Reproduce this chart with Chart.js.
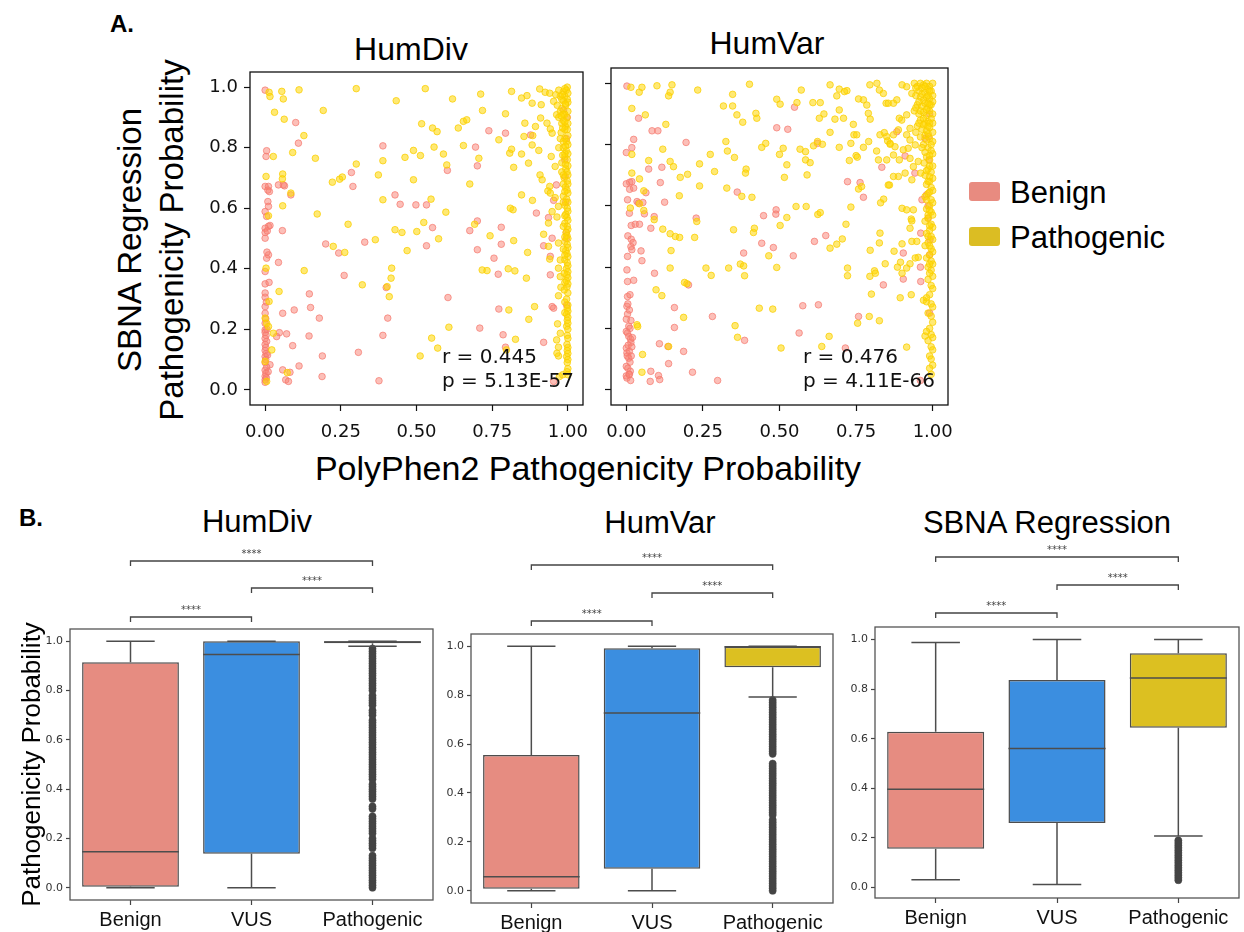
<!DOCTYPE html>
<html>
<head>
<meta charset="utf-8">
<script src="https://cdn.jsdelivr.net/npm/chart.js@4.4.1/dist/chart.umd.min.js"></script>
<style>
  body { margin: 0; background: #fff; }
  #page { position: relative; width: 1244px; height: 932px; overflow: hidden; font-family: "Liberation Sans", Arial, sans-serif; color: #000; }
  canvas { position: absolute; }
  .t { position: absolute; transform: translate(-50%, -50%); white-space: nowrap; line-height: 1; }
  .lg { position: absolute; line-height: 1; white-space: nowrap; font-size: 31px; transform: translateY(-50%); }
  .patch { position: absolute; width: 31px; height: 19px; border-radius: 3px; }
</style>
</head>
<body>
<div id="page">
  <div class="t" style="left:122px;top:24px;font-size:24px;font-weight:bold">A.</div>
  <div class="t" style="left:411px;top:49px;font-size:32px">HumDiv</div>
  <div class="t" style="left:767px;top:43px;font-size:32px">HumVar</div>
  <div class="t" style="left:151px;top:240px;font-size:33px;line-height:42px;text-align:center;transform:translate(-50%,-50%) rotate(-90deg)">SBNA Regression<br>Pathogenicity Probability</div>
  <div class="t" style="left:588px;top:468px;font-size:34px">PolyPhen2 Pathogenicity Probability</div>

  <div class="patch" style="left:969px;top:182px;background:#e88b80"></div>
  <div class="lg" style="left:1010px;top:192px">Benign</div>
  <div class="patch" style="left:969px;top:227px;background:#dbbd23"></div>
  <div class="lg" style="left:1010px;top:237px">Pathogenic</div>

  <div class="t" style="left:31px;top:518px;font-size:24px;font-weight:bold">B.</div>
  <div class="t" style="left:257px;top:521px;font-size:31px">HumDiv</div>
  <div class="t" style="left:660px;top:522px;font-size:31px">HumVar</div>
  <div class="t" style="left:1047px;top:522px;font-size:31px">SBNA Regression</div>

  <canvas id="scatterDiv" width="400" height="390" style="left:190px;top:60px"></canvas>
  <canvas id="scatterVar" width="355" height="395" style="left:600px;top:55px"></canvas>
  <canvas id="boxDiv" width="440" height="387" style="left:0px;top:545px"></canvas>
  <canvas id="boxVar" width="400" height="387" style="left:440px;top:545px"></canvas>
  <canvas id="boxSbna" width="404" height="387" style="left:840px;top:545px"></canvas>
</div>

<script>
// ---- panel A data: [PolyPhen2, SBNA] pairs ----
const scatterXTicks = [0, 0.25, 0.5, 0.75, 1.0];
const scatterYTicks = [0, 0.2, 0.4, 0.6, 0.8, 1.0];

const humDivStats = ["r = 0.445", "p = 5.13E-57"];
const humVarStats = ["r = 0.476", "p = 4.11E-66"];

const humDivBenign = [
  [0.0,0.99],[0.101,0.883],[0.11,0.815],[0.739,0.856],[0.794,0.848],[0.877,0.842],
  [0.003,0.771],[0.005,0.79],[0,0.672],[0.011,0.672],[0.014,0.655],[0.009,0.622],[0.011,0.606],[0,0.589],
  [0.005,0.573],[0.011,0.54],[0.016,0.543],[0,0.534],[0,0.501],[0.011,0.446],[0.005,0.435],[0,0.391],
  [0,0.35],[0.013,0.355],[0,0.306],[0,0.275],[0,0.253],[0,0.198],[0.016,0.083],[0,0.033],
  [0,0.19],[0.003,0.18],[0,0.17],[0.005,0.16],[0,0.15],[0.002,0.14],[0,0.13],[0.004,0.12],[0,0.11],
  [0.002,0.1],[0,0.09],[0.005,0.075],[0,0.065],[0.003,0.055],[0,0.045],[0.004,0.04],[0,0.025],[0.006,0.2],
  [0.008,0.115],[0.01,0.06],[0,0.22],[0.002,0.235],[0.004,0.29],[0,0.32],[0.006,0.455],[0,0.52],[0.007,0.525],[0.009,0.66],
  [0.044,0.677],[0.06,0.677],[0.064,0.674],[0.057,0.526],[0.085,0.644],[0.2,0.482],[0.243,0.452],[0.285,0.718],
  [0.29,0.672],[0.329,0.488],[0.389,0.806],[0.429,0.644],[0.446,0.613],[0.498,0.611],[0.533,0.611],[0.553,0.536],
  [0.533,0.476],[0.602,0.725],[0.695,0.802],[0.701,0.74],[0.701,0.558],[0.676,0.526],[0.78,0.537],[0.78,0.481],
  [0.701,0.463],[0.756,0.435],[0.896,0.584],[0.77,0.382],[0.772,0.267],[0.786,0.182],[0.794,0.141],[0.92,0.157],
  [0.709,0.204],[0.604,0.305],[0.405,0.237],[0.4,0.338],[0.261,0.378],[0.044,0.421],[0.146,0.317],[0.15,0.272],
  [0.096,0.264],[0.058,0.253],[0.179,0.237],[0.047,0.189],[0.038,0.176],[0.071,0.185],[0.145,0.178],[0.091,0.146],
  [0.189,0.112],[0.308,0.124],[0.389,0.18],[0.112,0.079],[0.058,0.066],[0.082,0.058],[0.068,0.033],[0.077,0.028],
  [0.188,0.044],[0.376,0.03],[0.953,0.27],[0.953,0.028],[0.948,0.275],[0.942,0.38],[0.942,0.441],[0.92,0.476],
  [0.948,0.501],[0.936,0.569],[0.953,0.626],[0.962,0.677],[0.991,0.705],[0.986,0.925],[0.99,0.76],[0.995,0.83],
  [0.993,0.62],[0.995,0.52],[0.995,0.5],[0.996,0.28],[0.998,0.9]
];

const humDivPathogenic = [
  [0.013,0.983],[0.016,0.969],[0.055,0.986],[0.06,0.961],[0.112,0.991],[0.031,0.917],[0.063,0.894],[0.128,0.84],
  [0.192,0.923],[0.301,0.995],[0.433,0.955],[0.529,0.995],[0.619,0.961],[0.712,0.977],[0.814,0.986],[0.718,0.923],
  [0.794,0.912],[0.517,0.879],[0.553,0.865],[0.568,0.853],[0.638,0.865],[0.655,0.887],[0.666,0.892],[0.772,0.826],
  [0.858,0.881],[0.893,0.87],[0.855,0.837],[0.884,0.84],[0.91,0.898],[0.931,0.881],[0.942,0.862],[0.882,0.947],
  [0.847,0.964],[0.865,0.972],[0.907,0.994],[0.925,0.983],[0.912,0.942],[0.94,0.98],
  [0.027,0.771],[0.003,0.705],[0.011,0.575],[0.003,0.402],[0.013,0.292],[0,0.237],[0.005,0.22],[0.011,0.209],
  [0.022,0.132],[0,0.094],[0.005,0.028],
  [0.058,0.713],[0.057,0.697],[0.058,0.608],[0.085,0.65],[0.091,0.784],[0.166,0.765],[0.172,0.581],[0.225,0.474],
  [0.263,0.454],[0.222,0.686],[0.246,0.696],[0.255,0.703],[0.301,0.746],[0.274,0.547],[0.364,0.496],[0.374,0.71],
  [0.389,0.757],[0.389,0.628],[0.429,0.529],[0.452,0.52],[0.462,0.768],[0.49,0.791],[0.513,0.774],[0.49,0.694],
  [0.548,0.63],[0.501,0.523],[0.524,0.553],[0.573,0.499],[0.469,0.46],[0.589,0.779],[0.558,0.802],[0.6,0.743],
  [0.597,0.587],[0.655,0.807],[0.706,0.765],[0.676,0.68],[0.692,0.547],[0.743,0.509],[0.821,0.493],[0.819,0.595],
  [0.81,0.6],[0.847,0.644],[0.821,0.735],[0.808,0.782],[0.814,0.795],[0.847,0.779],[0.87,0.749],[0.904,0.791],
  [0.882,0.809],[0.883,0.626],[0.908,0.71],[0.915,0.694],[0.867,0.454],[0.863,0.369],[0.717,0.396],[0.733,0.394],
  [0.803,0.4],[0.825,0.393],[0.805,0.264],[0.89,0.275],[0.871,0.233],[0.827,0.167],[0.797,0.132],[0.512,0.112],
  [0.55,0.171],[0.57,0.138],[0.607,0.207],[0.41,0.308],[0.403,0.341],[0.416,0.369],[0.418,0.402],[0.321,0.347],
  [0.129,0.394],[0.046,0.325],[0.027,0.187],[0.073,0.057],
  [0.969,0.112],[0.964,0.121],[0.94,0.432],[0.936,0.474],[0.92,0.514],[0.936,0.551],[0.948,0.589],[0.94,0.672],
  [0.934,0.657],[0.942,0.65],[0.958,0.635],[0.969,0.606],[0.964,0.571],[0.969,0.485],[0.975,0.429],[0.969,0.402],
  [0.975,0.374],[0.977,0.339],[0.969,0.311],[0.966,0.218],[0.975,0.187],[0.963,0.165],[0.969,0.141],[0.972,0.044],
  [0.983,0.05],[0.948,0.848],[0.963,0.909],[0.953,0.953],[0.945,0.771],[0.958,0.738],
  [0.998,1.0],[0.995,0.99],[1.0,0.98],[0.99,0.97],[0.998,0.96],[0.985,0.955],[1.0,0.95],[0.993,0.94],[0.98,0.93],
  [1.0,0.92],[0.99,0.91],[0.997,0.9],[0.985,0.89],[1.0,0.88],[0.992,0.87],[0.998,0.86],[0.978,0.85],[1.0,0.84],
  [0.99,0.83],[0.996,0.82],[1.0,0.81],[0.985,0.8],[0.995,0.79],[1.0,0.78],[0.99,0.77],[0.998,0.76],[0.98,0.75],
  [1.0,0.74],[0.993,0.73],[0.997,0.72],[1.0,0.71],[0.988,0.7],[0.998,0.69],[1.0,0.68],[0.992,0.67],[0.997,0.66],
  [1.0,0.65],[0.985,0.64],[0.996,0.63],[1.0,0.62],[0.99,0.61],[0.998,0.6],[1.0,0.59],[0.993,0.58],[0.997,0.57],
  [1.0,0.56],[0.99,0.55],[0.998,0.54],[1.0,0.53],[0.994,0.52],[0.997,0.51],[1.0,0.5],[0.99,0.49],[0.998,0.48],
  [1.0,0.47],[0.993,0.46],[0.997,0.45],[1.0,0.44],[0.99,0.43],[0.998,0.42],[1.0,0.41],[0.995,0.4],[1.0,0.39],
  [0.997,0.38],[1.0,0.37],[0.995,0.36],[1.0,0.35],[0.997,0.34],[1.0,0.32],[0.996,0.3],[1.0,0.28],[0.998,0.27],
  [1.0,0.26],[0.996,0.25],[1.0,0.24],[0.998,0.23],[1.0,0.22],[0.996,0.21],[1.0,0.2],[0.998,0.18],[1.0,0.17],
  [0.997,0.15],[1.0,0.14],[0.998,0.13],[1.0,0.12],[0.996,0.11],[1.0,0.1],[0.998,0.09],[1.0,0.07],[0.997,0.06],[1.0,0.05],
  [0.985,0.985],[0.975,0.97],[0.97,0.99],[0.96,0.975],[0.98,0.96],[0.965,0.94],[0.975,0.92],[0.985,0.91],[0.97,0.9],
  [0.98,0.88],[0.99,0.86],[0.975,0.83],[0.985,0.82],[0.97,0.8],[0.99,0.78],[0.98,0.72],[0.985,0.68],
  [0.99,0.995],[0.982,0.975],[0.992,0.945],[0.978,0.905],[0.99,0.885],[0.983,0.865],[0.992,0.805],[0.983,0.775],
  [0.992,0.745],[0.985,0.71],[0.99,0.655],[0.985,0.62],[0.99,0.575],[0.985,0.54],[0.99,0.505],[0.985,0.465],
  [0.99,0.445],[0.988,0.385],[0.99,0.355],[0.988,0.33],[0.99,0.29],[0.99,0.255]
];

const humVarBenign = [
  [0.002,0.991],[0.04,0.886],[0.084,0.845],[0.103,0.845],[0.024,0.817],[0.018,0.79],[0,0.774],[0.195,0.807],
  [0.073,0.72],[0.116,0.726],[0,0.672],[0.011,0.677],[0.018,0.679],[0.011,0.654],[0.024,0.658],[0.111,0.676],[0.064,0.643],
  [0.004,0.62],[0.035,0.614],[0.04,0.609],[0.054,0.611],[0.125,0.612],[0.01,0.576],[0.059,0.574],[0.016,0.536],
  [0.029,0.54],[0.043,0.54],[0.08,0.527],[0.005,0.502],[0.016,0.491],[0.022,0.48],[0.015,0.467],[0.004,0.435],
  [0.018,0.457],[0.048,0.453],[0.051,0.421],[0.002,0.391],[0.004,0.353],[0.024,0.357],[0.004,0.304],[0.002,0.272],
  [0.004,0.247],[0.015,0.226],[0.008,0.207],[0,0.19],[0.008,0.174],[0.015,0.154],[0,0.136],[0.002,0.12],[0.008,0.103],
  [0,0.076],[0.013,0.06],[0.002,0.038],[0.08,0.06],[0.105,0.046],[0.109,0.033],[0.078,0.027],[0.091,0.565],
  [0.005,0.28],[0.01,0.26],[0,0.23],[0.012,0.2],[0.004,0.185],[0.014,0.165],[0.006,0.145],[0.01,0.125],[0.003,0.11],
  [0.012,0.09],[0.005,0.07],[0.009,0.05],[0,0.045],[0.014,0.03],[0.016,0.11],[0.02,0.17],[0.018,0.14],[0.012,0.31],[0.01,0.05],
  [0.228,0.56],[0.362,0.645],[0.489,0.587],[0.488,0.573],[0.448,0.568],[0.614,0.484],[0.651,0.503],[0.722,0.679],
  [0.763,0.676],[0.774,0.628],[0.442,0.478],[0.48,0.464],[0.545,0.437],[0.383,0.446],[0.092,0.38],[0.203,0.342],
  [0.157,0.268],[0.281,0.239],[0.157,0.203],[0.386,0.161],[0.576,0.274],[0.627,0.277],[0.564,0.185],[0.108,0.15],
  [0.136,0.141],[0.187,0.125],[0.138,0.085],[0.216,0.057],[0.298,0.03],[0.715,0.136],[0.758,0.239],[0.839,0.342],
  [0.904,0.361],[0.961,0.353],[0.549,0.922],[0.491,0.855],[0.527,0.85],[0.624,0.804],[0.834,0.726],[0.883,0.842],
  [0.91,0.763],[0.942,0.707],[0.986,0.826],[0.98,0.636],[0.961,0.511],[0.991,0.489],[0.904,0.446],[0.985,0.6],
  [0.965,0.62],[0.985,0.56],[0.99,0.44],[0.96,0.4],[0.99,0.25],[0.96,0.03],[0.99,0.9],[0.988,0.75],[0.975,0.82]
];

const humVarPathogenic = [
  [0.015,0.987],[0.042,0.971],[0.051,0.987],[0.1,0.992],[0.143,0.971],[0.149,0.995],[0.138,0.959],[0.233,0.978],
  [0.402,0.997],[0.347,0.964],[0.317,0.926],[0.347,0.926],[0.361,0.897],[0.38,0.873],[0.423,0.902],[0.426,0.886],
  [0.491,0.948],[0.502,0.932],[0.571,0.978],[0.557,0.937],[0.609,0.937],[0.633,0.937],[0.645,0.9],[0.63,0.886],
  [0.665,0.995],[0.695,0.981],[0.72,0.976],[0.687,0.959],[0.712,0.973],[0.695,0.913],[0.681,0.883],[0.709,0.886],
  [0.741,0.866],[0.758,0.949],[0.774,0.946],[0.785,0.929],[0.79,0.902],[0.796,0.883],
  [0.795,0.995],[0.818,1.0],[0.826,0.978],[0.839,0.967],[0.848,0.935],[0.855,0.935],[0.872,0.935],[0.883,0.946],
  [0.9,0.995],[0.915,0.989],[0.932,0.967],[0.915,0.897],[0.899,0.88],[0.926,0.853],[0.915,0.832],[0.891,0.886],
  [0.888,0.848],[0.872,0.832],[0.861,0.804],[0.85,0.826],[0.877,0.793],[0.872,0.766],[0.85,0.75],[0.891,0.75],
  [0.904,0.783],[0.926,0.815],[0.92,0.788],[0.943,0.799],[0.926,0.755],[0.937,0.728],[0.91,0.707],[0.888,0.696],
  [0.872,0.696],[0.859,0.668],[0.932,0.685],[0.961,0.707],[0.953,0.745],
  [0.018,0.918],[0.062,0.897],[0.129,0.866],[0.018,0.768],[0.119,0.785],[0.143,0.745],[0.239,0.737],[0.274,0.768],
  [0.325,0.81],[0.33,0.779],[0.353,0.758],[0.073,0.748],[0.154,0.728],[0.176,0.693],[0.2,0.703],[0.288,0.712],
  [0.018,0.707],[0.043,0.688],[0.057,0.649],[0.173,0.633],[0.239,0.665],
  [0.013,0.593],[0.043,0.607],[0.091,0.555],[0.119,0.524],[0.143,0.509],[0.16,0.5],[0.174,0.497],[0.23,0.549],
  [0.223,0.497],[0.057,0.585],[0.377,0.631],[0.41,0.628],[0.328,0.658],[0.391,0.72],[0.389,0.707],
  [0.442,0.791],[0.455,0.804],[0.5,0.768],[0.512,0.788],[0.524,0.734],[0.516,0.693],[0.59,0.701],[0.567,0.785],
  [0.585,0.777],[0.585,0.75],[0.6,0.741],[0.611,0.796],[0.624,0.81],[0.64,0.801],[0.665,0.84],[0.695,0.791],
  [0.728,0.748],[0.733,0.804],[0.743,0.832],[0.752,0.832],[0.774,0.791],[0.75,0.764],[0.754,0.759],[0.791,0.81],
  [0.817,0.779],[0.823,0.75],[0.853,0.812],[0.861,0.801],[0.842,0.839],[0.828,0.832],
  [0.554,0.598],[0.524,0.562],[0.502,0.536],[0.625,0.572],[0.633,0.578],[0.587,0.598],[0.758,0.655],[0.768,0.663],
  [0.733,0.596],[0.717,0.54],[0.687,0.475],[0.705,0.492],[0.665,0.462],[0.415,0.513],[0.418,0.527],[0.35,0.522],[0.465,0.437],
  [0.372,0.41],[0.383,0.404],[0.334,0.397],[0.386,0.372],[0.491,0.399],[0.26,0.397],[0.277,0.373],[0.143,0.397],
  [0.146,0.454],[0.19,0.35],[0.198,0.346],[0.097,0.326],[0.116,0.307],[0.187,0.236],[0.355,0.209],[0.363,0.171],
  [0.434,0.266],[0.478,0.263],[0.662,0.174],[0.638,0.141],[0.505,0.136],[0.138,0.141],[0.053,0.115],[0.051,0.057],
  [0.035,0.212],[0.037,0.206],[0.755,0.217],[0.793,0.239],[0.826,0.225],[0.915,0.139],
  [0.795,0.37],[0.81,0.388],[0.813,0.38],[0.845,0.411],[0.9,0.38],[0.93,0.31],[0.894,0.3],[0.97,0.292],[0.98,0.287],
  [0.8,0.312],[0.796,0.455],[0.826,0.479],[0.828,0.511],[0.722,0.397],[0.722,0.372],
  [0.855,0.668],[0.84,0.622],[0.83,0.61],[0.9,0.592],[0.915,0.587],[0.937,0.587],[0.93,0.557],[0.932,0.551],
  [0.926,0.527],[0.932,0.484],[0.948,0.484],[0.953,0.432],[0.943,0.43],[0.926,0.411],[0.915,0.397],[0.885,0.4],
  [0.895,0.416],[0.9,0.476],[0.874,0.452],
  [0.94,1.0],[0.95,0.99],[0.96,1.0],[0.97,0.995],[0.98,1.0],[0.99,0.99],[1.0,1.0],[0.955,0.975],[0.965,0.985],
  [0.975,0.97],[0.985,0.98],[0.995,0.975],[0.945,0.96],[0.96,0.955],[0.97,0.945],[0.98,0.955],[0.99,0.95],[1.0,0.96],
  [0.95,0.93],[0.965,0.925],[0.975,0.935],[0.985,0.92],[0.995,0.93],[1.0,0.94],[0.94,0.91],[0.955,0.9],[0.97,0.905],
  [0.98,0.895],[0.99,0.91],[1.0,0.9],[0.96,0.88],[0.975,0.87],[0.985,0.875],[0.995,0.885],[1.0,0.87],[0.95,0.86],
  [0.965,0.85],[0.98,0.845],[0.99,0.855],[1.0,0.84],
  [0.975,0.83],[0.99,0.82],[1.0,0.81],[0.97,0.8],[0.985,0.79],[0.995,0.78],[1.0,0.77],[0.98,0.76],[0.99,0.75],
  [0.972,0.74],[1.0,0.73],[0.985,0.72],[0.995,0.71],[0.975,0.7],[1.0,0.69],[0.99,0.68],[0.98,0.67],[0.995,0.66],
  [1.0,0.65],[0.985,0.64],[0.975,0.63],[0.995,0.62],[1.0,0.61],[0.99,0.6],[0.98,0.59],[0.995,0.58],[1.0,0.57],
  [0.985,0.56],[0.975,0.55],[0.995,0.54],[1.0,0.53],[0.99,0.52],[0.98,0.51],[0.995,0.5],[1.0,0.49],[0.985,0.48],
  [0.975,0.47],[0.995,0.46],[1.0,0.45],[0.99,0.44],[0.98,0.43],[0.995,0.42],[1.0,0.41],[0.985,0.4],
  [0.995,0.39],[1.0,0.37],[0.985,0.36],[0.995,0.34],[1.0,0.33],[0.99,0.31],[0.98,0.3],[0.995,0.28],[1.0,0.27],
  [0.985,0.25],[0.995,0.24],[1.0,0.22],[0.99,0.2],[0.995,0.18],[1.0,0.17],[0.985,0.16],[0.995,0.14],[1.0,0.13],
  [0.99,0.11],[0.995,0.1],[1.0,0.08],[0.99,0.07],[0.995,0.05],[0.975,0.175],[0.98,0.19],
  [0.945,0.985],[0.955,0.94],[0.965,0.965],[0.975,0.99],[0.985,0.96],[0.99,0.975],[0.945,0.92],[0.96,0.91],
  [0.985,0.935],[0.99,0.93],[0.97,0.885],[0.98,0.915],[0.99,0.87],[0.955,0.87],[0.97,0.865],[0.985,0.86],
  [0.945,0.84],[0.96,0.825],[0.985,0.835],[0.995,0.8],[0.98,0.815],[0.965,0.79],[0.99,0.765],[0.975,0.775],
  [0.99,0.73],[0.98,0.715],[0.99,0.695],[0.985,0.68],[0.99,0.645],[0.98,0.62],[0.99,0.585],[0.985,0.57],
  [0.99,0.535],[0.985,0.5],[0.99,0.47],[0.99,0.41],[0.99,0.38]
];

// ---- panel B data: box plot summaries (Benign, VUS, Pathogenic) ----
const boxCategories = ["Benign", "VUS", "Pathogenic"];
const boxYTicks = [0, 0.2, 0.4, 0.6, 0.8, 1.0];
const bracketPairs = [[0, 2], [1, 2], [0, 1]];

const humDivLow    = [0.0, 0.0, 0.98];
const humDivQ1     = [0.004, 0.138, 0.992];
const humDivMedian = [0.146, 0.947, 0.997];
const humDivQ3     = [0.915, 1.0, 1.0];
const humDivHigh   = [1.0, 1.0, 1.0];
const humDivOutliers = [0.0,0.01,0.02,0.03,0.04,0.05,0.06,0.07,0.08,0.09,0.1,0.11,0.12,0.13,0.16,0.17,0.18,0.19,0.2,
  0.22,0.23,0.24,0.25,0.26,0.27,0.28,0.29,0.32,0.33,0.36,0.37,0.38,0.39,0.4,0.41,0.42,0.44,0.45,0.46,0.47,0.48,0.49,
  0.5,0.51,0.52,0.53,0.54,0.55,0.56,0.57,0.58,0.59,0.6,0.61,0.62,0.63,0.64,0.65,0.66,0.67,0.68,0.7,0.71,0.72,0.74,
  0.75,0.76,0.77,0.78,0.8,0.81,0.82,0.83,0.84,0.85,0.86,0.87,0.88,0.89,0.9,0.91,0.92,0.93,0.94,0.95,0.96,0.97];

const humVarLow    = [0.0, 0.0, 0.792];
const humVarQ1     = [0.008, 0.09, 0.914];
const humVarMedian = [0.057, 0.727, 0.998];
const humVarQ3     = [0.555, 0.992, 0.998];
const humVarHigh   = [1.0, 1.0, 1.0];
const humVarOutliers = [0.0,0.01,0.02,0.03,0.04,0.05,0.06,0.07,0.08,0.09,0.1,0.11,0.12,0.13,0.14,0.15,0.16,0.17,0.18,
  0.19,0.2,0.21,0.22,0.23,0.24,0.25,0.26,0.27,0.28,0.29,0.31,0.32,0.33,0.34,0.35,0.36,0.37,0.38,0.39,0.4,0.41,0.42,
  0.43,0.44,0.45,0.46,0.47,0.48,0.49,0.5,0.51,0.52,0.56,0.57,0.58,0.59,0.6,0.61,0.62,0.63,0.64,0.65,0.66,0.67,0.68,
  0.69,0.7,0.71,0.72,0.73,0.74,0.75,0.76,0.77,0.78];

const sbnaLow    = [0.032, 0.012, 0.208];
const sbnaQ1     = [0.156, 0.26, 0.644];
const sbnaMedian = [0.396, 0.56, 0.844];
const sbnaQ3     = [0.628, 0.836, 0.944];
const sbnaHigh   = [0.988, 1.0, 1.0];
const sbnaOutliers = [0.03,0.04,0.05,0.06,0.07,0.08,0.09,0.1,0.11,0.12,0.13,0.14,0.15,0.16,0.17,0.18,0.19];

const boxColors = ["#e68c81", "#3b8ee0", "#dcc021"];

// ---- plugins ----
const framePlugin = {
  id: "frame",
  afterDraw(chart, args, o) {
    const a = chart.chartArea, ctx = chart.ctx;
    ctx.save();
    ctx.strokeStyle = o.color;
    ctx.lineWidth = o.width;
    ctx.strokeRect(a.left, a.top, a.right - a.left, a.bottom - a.top);
    ctx.restore();
  }
};

const corrPlugin = {
  id: "corr",
  afterDatasetsDraw(chart, args, o) {
    const a = chart.chartArea, ctx = chart.ctx;
    ctx.save();
    ctx.fillStyle = "#111";
    ctx.font = '20px "DejaVu Sans"';
    ctx.textBaseline = "middle";
    ctx.fillText(o.lines[0], a.left + 192, a.bottom - 47);
    ctx.fillText(o.lines[1], a.left + 192, a.bottom - 23);
    ctx.restore();
  }
};

const boxPartsPlugin = {
  id: "boxParts",
  afterDatasetsDraw(chart, args, o) {
    const ctx = chart.ctx, ys = chart.scales.y;
    const meta = chart.getDatasetMeta(0);
    const line = (x1, y1, x2, y2) => { ctx.beginPath(); ctx.moveTo(x1, y1); ctx.lineTo(x2, y2); ctx.stroke(); };
    ctx.save();
    ctx.strokeStyle = "#4d4d4d";
    ctx.lineWidth = 1.5;
    o.median.forEach((m, i) => {
      const bar = meta.data[i], w = bar.width, cx = bar.x;
      const q1 = ys.getPixelForValue(o.q1[i]), q3 = ys.getPixelForValue(o.q3[i]);
      const lo = ys.getPixelForValue(o.low[i]), hi = ys.getPixelForValue(o.high[i]);
      const md = ys.getPixelForValue(m);
      line(cx - w / 2, md, cx + w / 2, md);
      line(cx, q3, cx, hi); line(cx - w / 4, hi, cx + w / 4, hi);
      line(cx, q1, cx, lo); line(cx - w / 4, lo, cx + w / 4, lo);
    });
    ctx.restore();
  }
};

const bracketPlugin = {
  id: "brackets",
  afterDraw(chart, args, o) {
    const ctx = chart.ctx, a = chart.chartArea, xs = chart.scales.x;
    ctx.save();
    ctx.strokeStyle = "#444";
    ctx.fillStyle = "#444";
    ctx.lineWidth = 1.3;
    ctx.font = '10px "DejaVu Sans"';
    ctx.textAlign = "center";
    ctx.textBaseline = "middle";
    bracketPairs.forEach((p, k) => {
      const y = a.top - o.offsets[k];
      const x1 = xs.getPixelForValue(p[0]), x2 = xs.getPixelForValue(p[1]);
      ctx.beginPath();
      ctx.moveTo(x1, y + 5); ctx.lineTo(x1, y); ctx.lineTo(x2, y); ctx.lineTo(x2, y + 5);
      ctx.stroke();
      ctx.fillText("****", (x1 + x2) / 2, y - 7);
    });
    ctx.restore();
  }
};

// ---- panel A: scatter ----
function scatterConfig(benign, path, stats, yWidth, showYLabels, pad) {
  return {
    type: "scatter",
    data: {
      datasets: [
        { label: "Pathogenic", data: path.map(p => ({ x: p[0], y: p[1] })),
          backgroundColor: "rgba(255,215,0,0.55)", borderColor: "rgba(250,205,0,0.75)", borderWidth: 1, pointRadius: 3.3 },
        { label: "Benign", data: benign.map(p => ({ x: p[0], y: p[1] })),
          backgroundColor: "rgba(250,128,114,0.5)", borderColor: "rgba(245,120,110,0.7)", borderWidth: 1, pointRadius: 3.3 }
      ]
    },
    options: {
      responsive: false, animation: false, events: [],
      layout: { padding: { top: pad.top, right: pad.right, left: 0, bottom: 0 } },
      plugins: { legend: { display: false }, tooltip: { enabled: false },
                 frame: { color: "#111", width: 1.3 }, corr: { lines: stats } },
      scales: {
        x: {
          type: "linear", min: -0.05, max: 1.05,
          afterBuildTicks: s => { s.ticks = scatterXTicks.map(v => ({ value: v })); },
          afterFit: s => { s.height = 45; s.paddingLeft = 0; s.paddingRight = 0; },
          ticks: { callback: v => v.toFixed(2), font: { family: "DejaVu Sans", size: 18 }, color: "#111",
                   padding: 11, maxRotation: 0, autoSkip: false },
          grid: { drawOnChartArea: false, tickLength: 6, color: "#111", tickWidth: 1.2 },
          border: { display: false }
        },
        y: {
          type: "linear", min: -0.05, max: 1.05,
          afterBuildTicks: s => { s.ticks = scatterYTicks.map(v => ({ value: v })); },
          afterFit: s => { s.width = yWidth; s.paddingTop = 0; s.paddingBottom = 0; },
          ticks: { display: showYLabels, callback: v => v.toFixed(1), font: { family: "DejaVu Sans", size: 18 },
                   color: "#111", padding: 6, autoSkip: false },
          grid: { drawOnChartArea: false, tickLength: 6, color: "#111", tickWidth: 1.2 },
          border: { display: false }
        }
      }
    },
    plugins: [framePlugin, corrPlugin]
  };
}

new Chart(document.getElementById("scatterDiv"),
  scatterConfig(humDivBenign, humDivPathogenic, humDivStats, 60, true, { top: 12, right: 7 }));
new Chart(document.getElementById("scatterVar"),
  scatterConfig(humVarBenign, humVarPathogenic, humVarStats, 11, false, { top: 13, right: 7 }));

// ---- panel B: box plots ----
function boxConfig(s, outliers, lay) {
  return {
    type: "bar",
    data: {
      labels: boxCategories,
      datasets: [
        { type: "bar", data: s.q1.map((q, i) => [q, s.q3[i]]), backgroundColor: boxColors,
          borderColor: "#4d4d4d", borderWidth: 1.5, borderSkipped: false,
          barPercentage: 0.8, categoryPercentage: 1 },
        { type: "scatter", data: outliers.map(v => ({ x: "Pathogenic", y: v })),
          backgroundColor: "#444", borderColor: "#444", pointRadius: 3.6, borderWidth: 0.5 }
      ]
    },
    options: {
      responsive: false, animation: false, events: [],
      layout: { padding: { top: lay.top, right: lay.right, left: 0, bottom: 0 } },
      plugins: { legend: { display: false }, tooltip: { enabled: false },
                 frame: { color: "#555", width: 1.3 },
                 boxParts: s, brackets: { offsets: lay.brackets } },
      scales: {
        x: {
          type: "category",
          afterFit: sc => { sc.height = lay.xHeight; sc.paddingLeft = 0; sc.paddingRight = 0; },
          ticks: { font: { family: "Liberation Sans", size: 20 }, color: "#111", padding: 3, maxRotation: 0 },
          grid: { drawOnChartArea: false, tickLength: 5, color: "#444", tickWidth: 1.2, offset: false },
          border: { display: false }
        },
        y: {
          type: "linear", min: lay.min, max: lay.max,
          afterBuildTicks: sc => { sc.ticks = boxYTicks.map(v => ({ value: v })); },
          afterFit: sc => { sc.width = lay.yWidth; sc.paddingTop = 0; sc.paddingBottom = 0; },
          ticks: { callback: v => v.toFixed(1), font: { family: "DejaVu Sans", size: 11 }, color: "#333", padding: 3 },
          grid: { drawOnChartArea: false, tickLength: 4, color: "#444", tickWidth: 1.2 },
          border: { display: false },
          title: { display: lay.yTitle, text: "Pathogenicity Probability",
                   font: { family: "Liberation Sans", size: 26 }, color: "#000", padding: { top: 17, bottom: 0 } }
        }
      }
    },
    plugins: [framePlugin, boxPartsPlugin, bracketPlugin]
  };
}

new Chart(document.getElementById("boxDiv"), boxConfig(
  { low: humDivLow, q1: humDivQ1, median: humDivMedian, q3: humDivQ3, high: humDivHigh }, humDivOutliers,
  { top: 84, right: 7, yWidth: 70, xHeight: 32, min: -0.05, max: 1.05, yTitle: true, brackets: [68, 41, 12] }));
new Chart(document.getElementById("boxVar"), boxConfig(
  { low: humVarLow, q1: humVarQ1, median: humVarMedian, q3: humVarQ3, high: humVarHigh }, humVarOutliers,
  { top: 89, right: 7, yWidth: 31, xHeight: 29, min: -0.05, max: 1.05, yTitle: false, brackets: [69, 41, 13] }));
new Chart(document.getElementById("boxSbna"), boxConfig(
  { low: sbnaLow, q1: sbnaQ1, median: sbnaMedian, q3: sbnaQ3, high: sbnaHigh }, sbnaOutliers,
  { top: 82, right: 5, yWidth: 35, xHeight: 34, min: -0.042, max: 1.05, yTitle: false, brackets: [70, 42, 14] }));
</script>
</body>
</html>
